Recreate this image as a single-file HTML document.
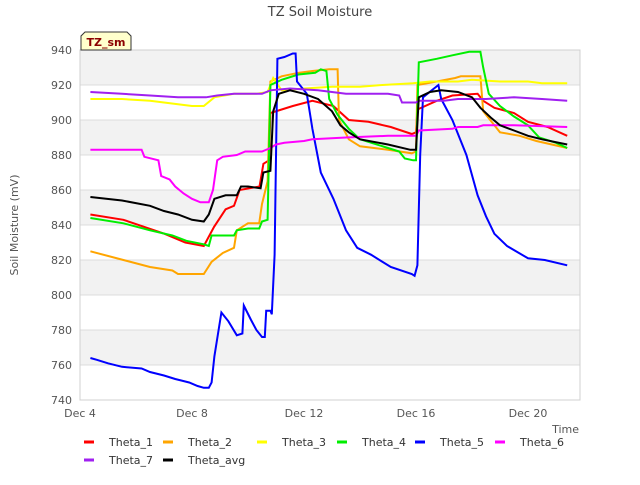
<!DOCTYPE html>
<html><head><meta charset="utf-8"><style>
body{margin:0;background:#fff;font-family:"Liberation Sans",sans-serif}
svg text{font-family:"DejaVu Sans","Liberation Sans",sans-serif}
</style></head><body>
<svg id="c" width="640" height="480" xmlns="http://www.w3.org/2000/svg">
<text x="320" y="16" text-anchor="middle" font-size="13" fill="#444">TZ Soil Moisture</text>
<g id="grid"></g>
<g id="lines"></g>
<g id="axes"></g>
<text transform="translate(18,225) rotate(-90)" text-anchor="middle" font-size="11" fill="#555">Soil Moisture (mV)</text>
<text x="579" y="433" text-anchor="end" font-size="11" fill="#555">Time</text>
<g><path d="M81,50 L81,36 L85,32 L127,32 L131,36 L131,50 Z" fill="#ffffcc" stroke="#333" stroke-width="1"/><text x="106" y="46" text-anchor="middle" font-size="11" font-weight="bold" fill="#8b0000">TZ_sm</text></g>
<g id="legend"></g>
</svg>
<script>
const yTicks=[740,760,780,800,820,840,860,880,900,920,940];
const xTickDays=[4,8,12,16,20];
const xTickLabels=["Dec 4","Dec 8","Dec 12","Dec 16","Dec 20"];
const seriesNames=["Theta_1","Theta_2","Theta_3","Theta_4","Theta_5","Theta_6","Theta_7","Theta_avg"];
const theta1=[[4.37,846],[5.55,843],[7.02,835],[7.76,830],[8.42,828],[8.79,839],[9.2,849],[9.5,851],[9.7,860],[10.41,862],[10.55,875],[10.75,877],[10.8,904],[11.6,908],[12.3,911],[13.05,908],[13.6,900],[14.3,899],[15.1,896],[15.85,892],[16.0,893],[16.05,906],[16.74,911],[17.3,914],[18.2,915],[18.4,911],[18.8,907],[19.5,904],[20.0,899],[20.7,896],[21.4,891]];
const theta2=[[4.37,825],[5.55,820],[6.5,816],[7.3,814],[7.5,812],[8.42,812],[8.7,819],[9.1,824],[9.5,827],[9.6,837],[10.0,841],[10.4,841],[10.5,852],[10.7,865],[10.8,922],[11.2,925],[11.8,927],[12.3,928],[12.9,929],[13.2,929],[13.25,900],[13.6,889],[14.0,885],[15.0,883],[15.85,881],[16.0,882],[16.05,920],[16.74,922],[17.4,924],[17.6,925],[18.3,925],[18.4,905],[19.0,893],[19.7,891],[20.3,888],[21.4,884]];
const theta3=[[4.37,912],[5.5,912],[6.5,911],[7.5,909],[8.0,908],[8.42,908],[8.8,913],[9.5,915],[10.3,915],[10.7,916],[10.9,924],[11.2,917],[12.0,918],[13.0,919],[14.0,919],[14.8,920],[15.9,921],[16.5,922],[17.5,922],[18.0,923],[19.0,922],[20.0,922],[20.5,921],[21.4,921]];
const theta4=[[4.37,844],[5.55,841],[6.5,837],[7.3,834],[7.8,831],[8.42,829],[8.6,828],[8.7,834],[9.5,834],[9.6,837],[10.0,838],[10.4,838],[10.5,842],[10.7,843],[10.8,920],[11.2,923],[11.8,926],[12.4,927],[12.6,929],[12.8,928],[12.9,912],[13.2,903],[13.6,895],[14.0,889],[15.0,884],[15.4,882],[15.6,878],[15.9,877],[16.0,877],[16.1,933],[16.74,935],[17.3,937],[17.9,939],[18.3,939],[18.4,930],[18.6,915],[19.0,908],[19.5,902],[20.0,897],[20.4,890],[21.0,887],[21.4,884]];
const theta5=[[4.37,764],[4.6,763],[5.0,761],[5.5,759],[6.2,758],[6.5,756],[7.0,754],[7.4,752],[7.9,750],[8.2,748],[8.42,747],[8.6,747],[8.7,750],[8.8,765],[8.95,780],[9.05,790],[9.3,785],[9.6,777],[9.8,778],[9.85,794],[10.1,786],[10.3,780],[10.5,776],[10.6,776],[10.65,791],[10.8,791],[10.85,789],[10.95,823],[11.05,935],[11.3,936],[11.6,938],[11.7,938],[11.75,922],[12.1,915],[12.3,895],[12.6,870],[13.05,855],[13.5,837],[13.9,827],[14.4,823],[15.1,816],[15.85,812],[15.95,811],[16.05,817],[16.15,880],[16.25,913],[16.8,920],[16.9,912],[17.3,900],[17.8,880],[18.2,857],[18.5,845],[18.8,835],[19.25,828],[20.0,821],[20.6,820],[21.4,817]];
const theta6=[[4.37,883],[6.2,883],[6.3,879],[6.8,877],[6.9,868],[7.2,866],[7.4,862],[7.7,858],[8.0,855],[8.3,853],[8.6,853],[8.75,860],[8.9,877],[9.1,879],[9.6,880],[9.9,882],[10.5,882],[10.8,884],[11.0,886],[11.3,887],[12.0,888],[12.3,889],[13.5,890],[15.0,891],[16.0,891],[16.1,894],[17.3,895],[17.5,896],[18.2,896],[18.4,897],[19.5,897],[21.4,896]];
const theta7=[[4.37,916],[5.5,915],[6.5,914],[7.5,913],[8.5,913],[8.9,914],[9.5,915],[10.5,915],[10.8,917],[11.5,918],[12.5,917],[13.5,915],[15.0,915],[15.4,914],[15.5,910],[16.0,910],[16.1,911],[17.0,911],[17.5,912],[18.5,912],[19.5,913],[20.5,912],[21.4,911]];
const thetaAvg=[[4.37,856],[5.5,854],[6.5,851],[7.0,848],[7.5,846],[8.0,843],[8.42,842],[8.6,846],[8.8,855],[9.2,857],[9.6,857],[9.75,862],[10.0,862],[10.45,861],[10.55,870],[10.8,871],[10.9,905],[11.1,915],[11.5,917],[12.0,915],[12.5,912],[13.0,905],[13.3,897],[13.6,893],[14.0,889],[15.0,886],[15.8,883],[16.0,883],[16.1,913],[16.5,916],[16.9,917],[17.5,916],[18.0,913],[18.3,907],[18.7,901],[19.0,897],[19.5,894],[20.0,891],[20.5,889],[21.4,886]];
const seriesData=[theta1,theta2,theta3,theta4,theta5,theta6,theta7,thetaAvg];
const colors=["#ff0000","#ffa500","#ffff00","#00ee00","#0000ff","#ff00ff","#a020f0","#000000"];
const NS="http://www.w3.org/2000/svg";
const L=80,R=580,T=50,B=400;
function xs(d){return L+(d-4)*28;}
function ys(v){return B-(v-740)*(B-T)/200;}
function mk(tag,attrs,parent){const e=document.createElementNS(NS,tag);for(const k in attrs)e.setAttribute(k,attrs[k]);parent.appendChild(e);return e;}
const grid=document.getElementById('grid'),axes=document.getElementById('axes'),lines=document.getElementById('lines'),legend=document.getElementById('legend');
for(let i=0;i<yTicks.length-1;i++){
  const band=mk('rect',{x:L,y:ys(yTicks[i+1]),width:R-L,height:ys(yTicks[i])-ys(yTicks[i+1]),fill:(i%2==0)?'#ffffff':'#f2f2f2'},grid);
  
  
}
yTicks.forEach(v=>{
  const gl=mk('line',{x1:L,x2:R,y1:ys(v),y2:ys(v),stroke:'#dcdcdc','stroke-width':1},grid);
  
  
  const t=mk('text',{x:L-8,y:ys(v)+4,'text-anchor':'end','font-size':11,fill:'#555'},axes);
  t.textContent=v;
  
  
});
const frame=mk('rect',{x:L,y:T,width:R-L,height:B-T,fill:'none',stroke:'#d0d0d0','stroke-width':1},axes);


xTickDays.forEach((d,i)=>{
  const t=mk('text',{x:xs(d),y:417,'text-anchor':'middle','font-size':11,fill:'#555'},axes);
  t.textContent=xTickLabels[i];
  
  
});
seriesData.forEach((s,i)=>{
  const p=mk('polyline',{points:s.map(q=>xs(q[0]).toFixed(1)+','+ys(q[1]).toFixed(1)).join(' '),fill:'none',stroke:colors[i],'stroke-width':2,'stroke-linejoin':'miter'},lines);
  
  
});
const legX=[89,168,262,342,420,500,89,168],legY=[442,442,442,442,442,442,460,460];
seriesNames.forEach((n,i)=>{
  const g=mk('g',{},legend);
  
  
  mk('line',{x1:legX[i]-5,x2:legX[i]+5,y1:legY[i],y2:legY[i],stroke:colors[i],'stroke-width':3},g);
  const t=mk('text',{x:legX[i]+20,y:legY[i]+4,'font-size':11,fill:'#333'},g);
  t.textContent=n;
});
</script>
</body></html>
